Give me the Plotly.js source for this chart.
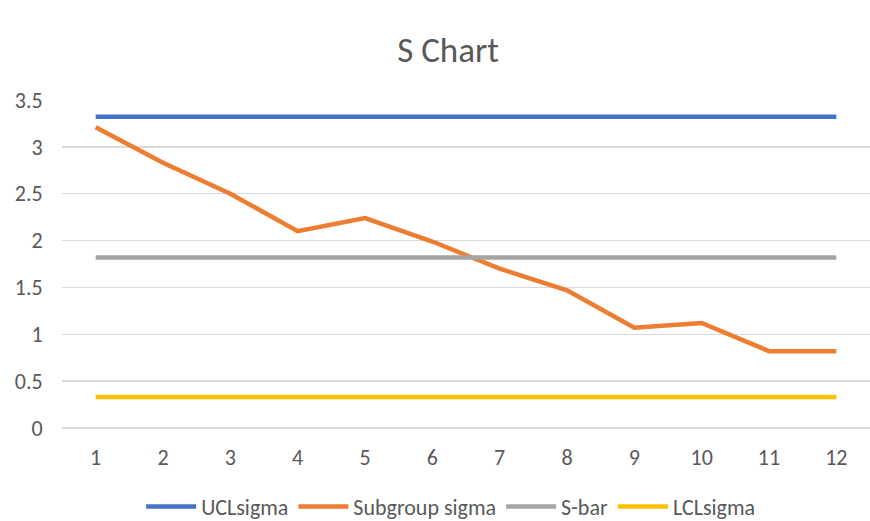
<!DOCTYPE html>
<html>
<head>
<meta charset="utf-8">
<script src="https://cdn.plot.ly/plotly-3.0.1.min.js"></script>
<style>
  html, body { margin: 0; padding: 0; background: #fff; }
  #chart { width: 870px; height: 521px; }
</style>
</head>
<body>
<div id="chart"></div>
<script>
// Subgroup numbers on the category axis
const subgroups = [1, 2, 3, 4, 5, 6, 7, 8, 9, 10, 11, 12];

// Standard deviation of each subgroup
const subgroupSigma = [3.21, 2.83, 2.50, 2.10, 2.24, 1.99, 1.70, 1.47, 1.07, 1.12, 0.82, 0.82];

// Control limits and centre line
const uclSigma = 3.32;
const sBar = 1.82;
const lclSigma = 0.33;

const uclValues = subgroups.map(() => uclSigma);
const sBarValues = subgroups.map(() => sBar);
const lclValues = subgroups.map(() => lclSigma);

const FONT = 'Carlito, Calibri, "Open Sans", "Liberation Sans", sans-serif';

function series(name, y, color) {
  return {
    type: 'scatter',
    mode: 'lines',
    name: name,
    x: subgroups,
    y: y,
    line: { color: color, width: 4.5 },
    hoverinfo: 'x+y'
  };
}

const data = [
  series('UCLsigma', uclValues, '#4472C4'),
  series('Subgroup sigma', subgroupSigma, '#ED7D31'),
  series('S-bar', sBarValues, '#A5A5A5'),
  series('LCLsigma', lclValues, '#FFC000')
];

const layout = {
  width: 870,
  height: 521,
  paper_bgcolor: '#ffffff',
  plot_bgcolor: '#ffffff',
  margin: { l: 62, r: 0, t: 100, b: 93, autoexpand: false },
  font: { family: FONT, color: '#595959', size: 22 },
  title: {
    text: 'S Chart',
    font: { family: FONT, size: 35, color: '#595959' },
    x: 0.515,
    xanchor: 'center',
    y: 0.905,
    yanchor: 'middle'
  },
  xaxis: {
    range: [0.5, 12.5],
    tickmode: 'array',
    tickvals: subgroups,
    ticktext: subgroups.map(String),
    showgrid: false,
    zeroline: false,
    showline: false,
    ticks: 'outside',
    ticklen: 10,
    tickcolor: 'rgba(0,0,0,0)',
    tickfont: { family: FONT, size: 22, color: '#595959' },
    fixedrange: true
  },
  yaxis: {
    range: [0, 3.5],
    tickmode: 'array',
    tickvals: [0, 0.5, 1, 1.5, 2, 2.5, 3, 3.5],
    ticktext: ['0', '0.5', '1', '1.5', '2', '2.5', '3', '3.5'],
    showgrid: true,
    gridcolor: '#D9D9D9',
    gridwidth: 1.5,
    zeroline: true,
    zerolinecolor: '#D9D9D9',
    zerolinewidth: 1.5,
    showline: false,
    ticks: 'outside',
    ticklen: 14,
    tickcolor: 'rgba(0,0,0,0)',
    tickfont: { family: FONT, size: 22, color: '#595959' },
    fixedrange: true
  },
  showlegend: true,
  legend: {
    orientation: 'h',
    x: 0.481,
    xanchor: 'center',
    y: -0.24,
    yanchor: 'middle',
    font: { family: FONT, size: 22, color: '#595959' },
    itemwidth: 50,
    traceorder: 'normal'
  }
};

Plotly.newPlot('chart', data, layout, { displayModeBar: false, staticPlot: true });
</script>
</body>
</html>
